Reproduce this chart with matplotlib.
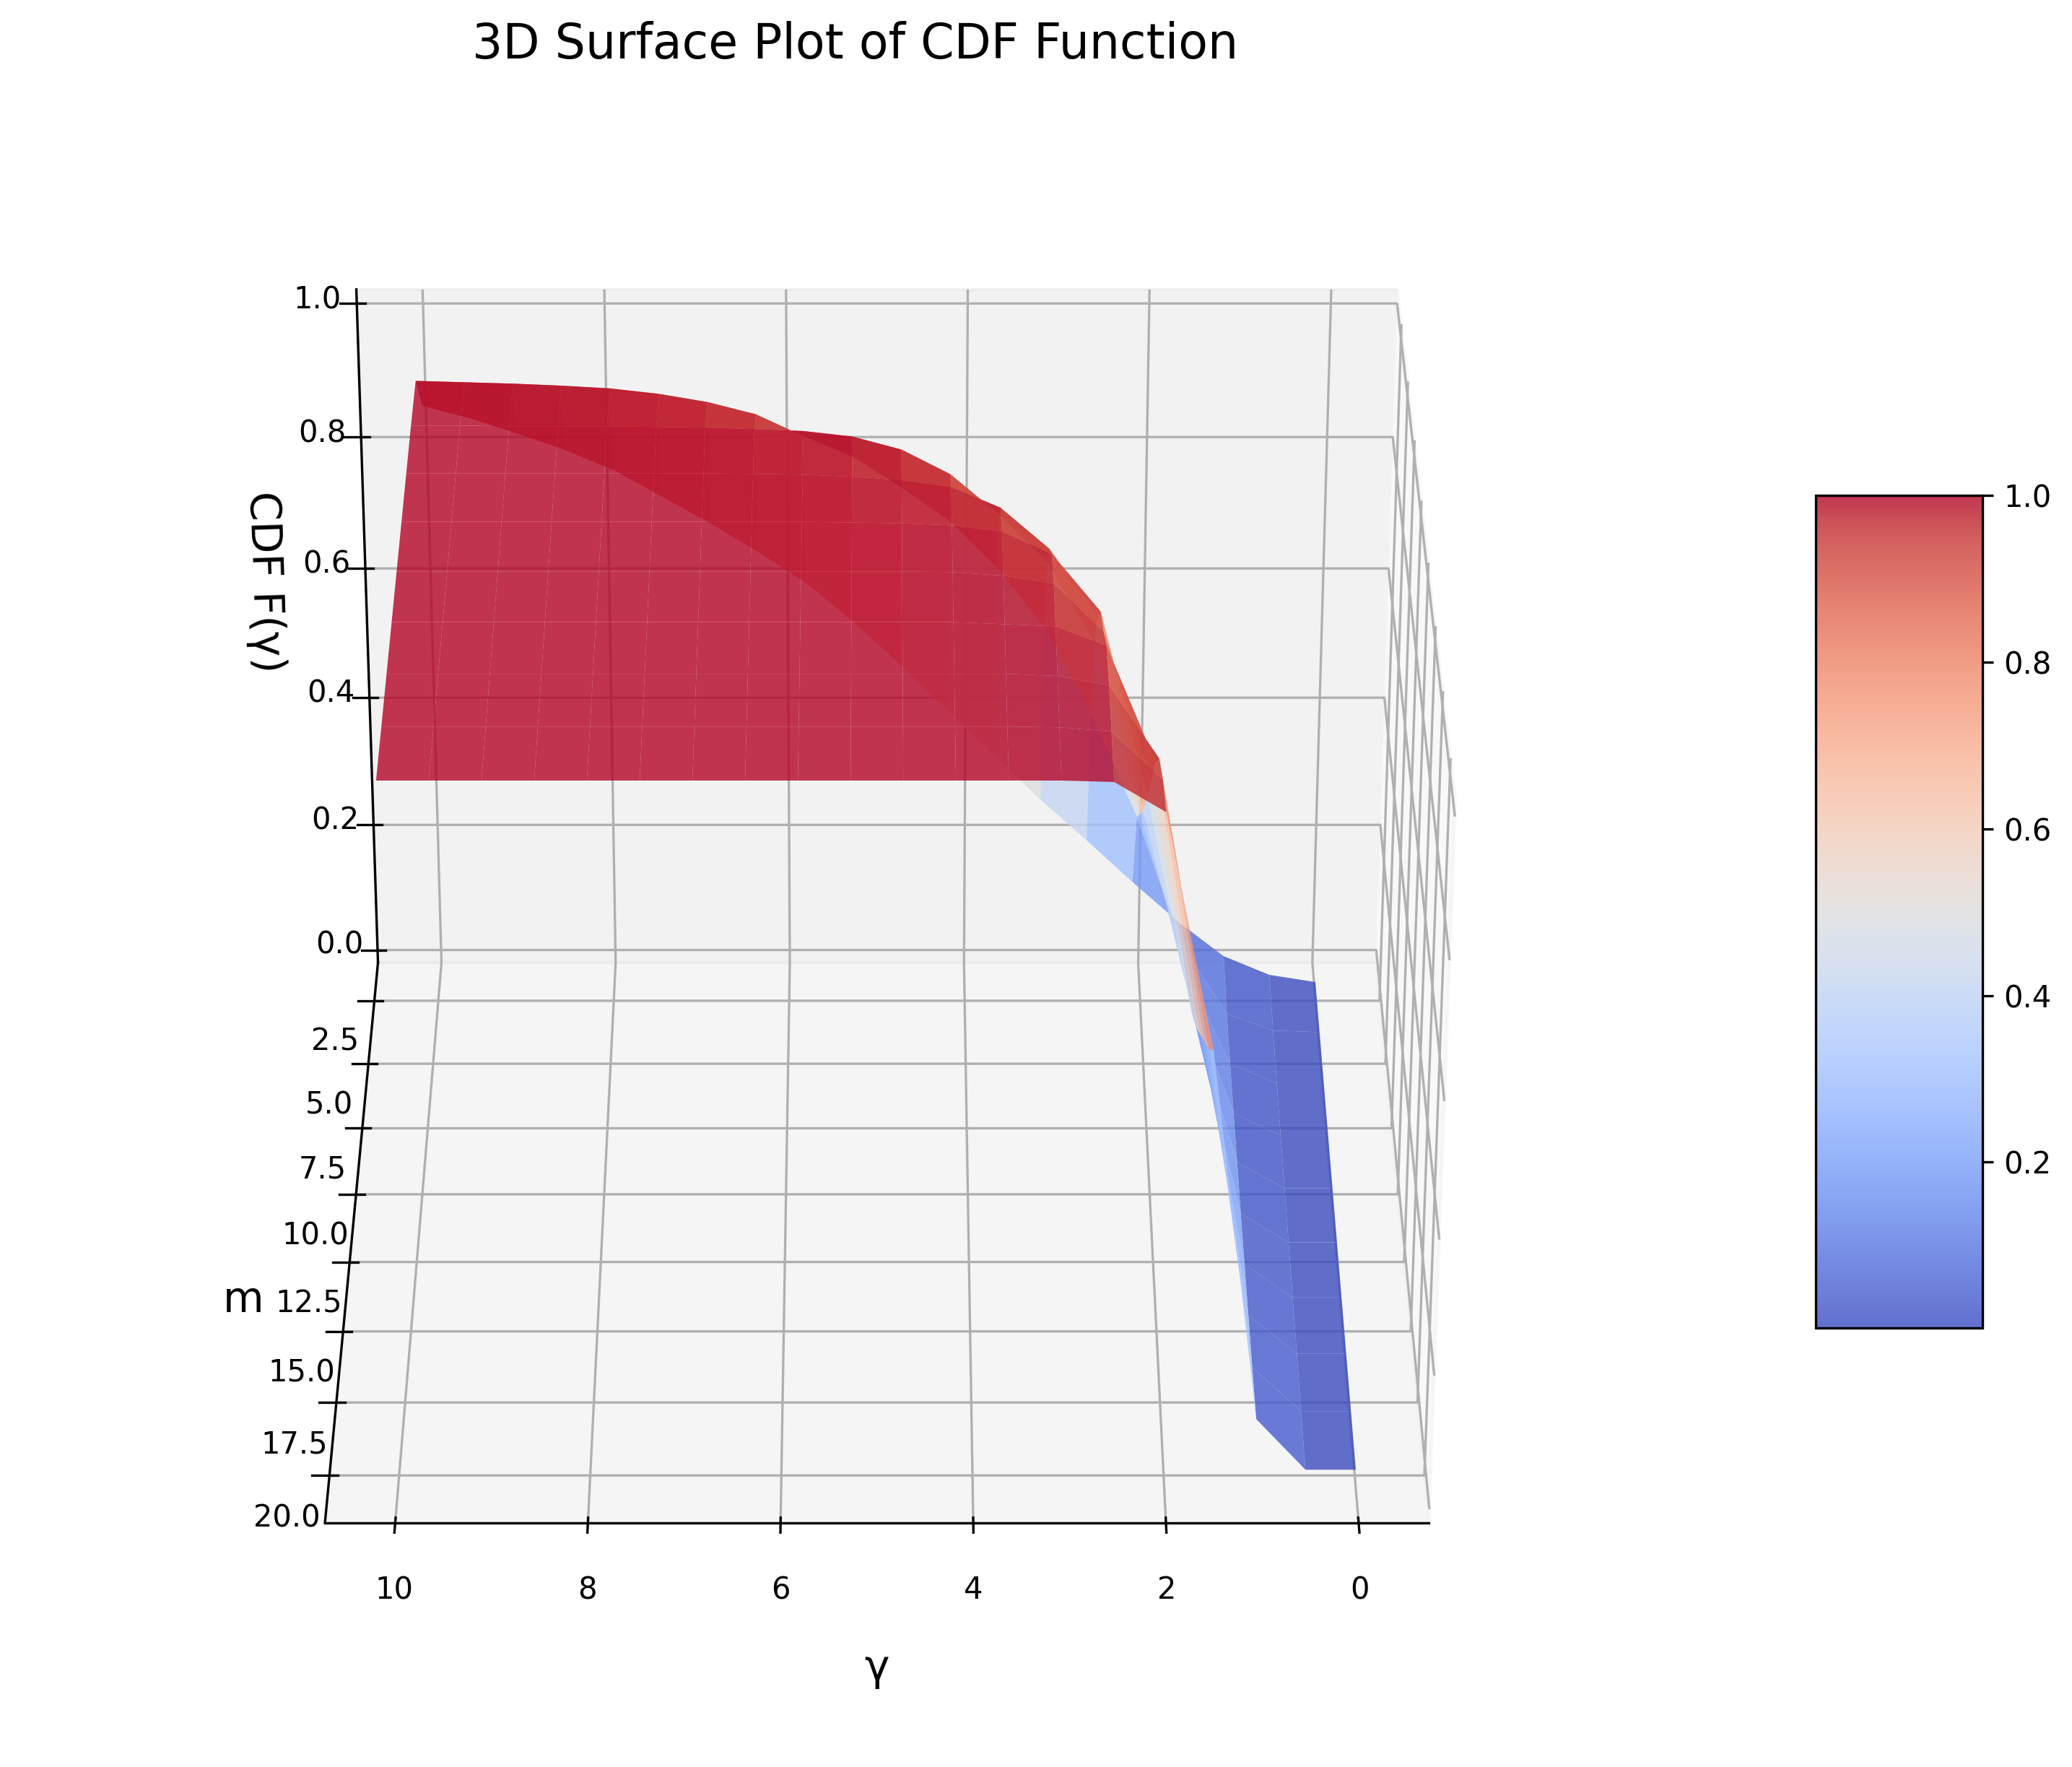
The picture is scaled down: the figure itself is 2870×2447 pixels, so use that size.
import numpy as np
import matplotlib
matplotlib.use('Agg')
import matplotlib.pyplot as plt

gamma_vals = [0.0, 0.526, 1.053, 1.579, 2.105, 2.632, 3.158, 3.684, 4.211, 4.737,
              5.263, 5.789, 6.316, 6.842, 7.368, 7.895, 8.421, 8.947, 9.474, 10.0]
m_vals = [2.27, 4.27, 6.27, 8.27, 10.27, 12.27, 14.27, 16.27, 18.27, 20.27]

# CDF leido da figura, uma linha por valor de m
cdf_row0 = [0.0005, 0.012, 0.042, 0.097, 0.16, 0.226, 0.29, 0.36, 0.43, 0.50, 0.565, 0.625, 0.672, 0.715, 0.755, 0.795, 0.825, 0.85, 0.873, 0.892]
cdf_row1 = [0.0005, 0.003, 0.03, 0.14, 0.34, 0.50, 0.63, 0.72, 0.79, 0.84, 0.885, 0.915, 0.948, 0.966, 0.978, 0.986, 0.99, 0.993, 0.995, 0.997]
cdf_row2 = [0.0005, 0.0005, 0.031, 0.18, 0.42, 0.68, 0.80, 0.87, 0.929, 0.965, 0.984, 0.992, 0.995, 0.997, 0.998, 0.999, 0.999, 0.999, 1.0, 1.0]
cdf_row3 = [0.0005, 0.0005, 0.035, 0.22, 0.50, 0.79, 0.89, 0.95, 0.98, 0.99, 0.995, 0.998, 0.999, 1.0, 1.0, 1.0, 1.0, 1.0, 1.0, 1.0]
cdf_row4 = [0.0005, 0.0005, 0.041, 0.27, 0.60, 0.87, 0.954, 0.986, 0.995, 0.998, 0.999, 1.0, 1.0, 1.0, 1.0, 1.0, 1.0, 1.0, 1.0, 1.0]
cdf_row5 = [0.0005, 0.0005, 0.045, 0.33, 0.70, 0.914, 0.983, 0.994, 0.999, 1.0, 1.0, 1.0, 1.0, 1.0, 1.0, 1.0, 1.0, 1.0, 1.0, 1.0]
cdf_row6 = [0.0005, 0.0005, 0.052, 0.40, 0.80, 0.967, 0.994, 0.997, 1.0, 1.0, 1.0, 1.0, 1.0, 1.0, 1.0, 1.0, 1.0, 1.0, 1.0, 1.0]
cdf_row7 = [0.0005, 0.0005, 0.06, 0.47, 0.88, 0.984, 0.997, 1.0, 1.0, 1.0, 1.0, 1.0, 1.0, 1.0, 1.0, 1.0, 1.0, 1.0, 1.0, 1.0]
cdf_row8 = [0.0005, 0.0005, 0.067, 0.54, 0.926, 0.993, 0.999, 1.0, 1.0, 1.0, 1.0, 1.0, 1.0, 1.0, 1.0, 1.0, 1.0, 1.0, 1.0, 1.0]
cdf_row9 = [0.0005, 0.0005, 0.077, 0.62, 0.956, 0.998, 1.0, 1.0, 1.0, 1.0, 1.0, 1.0, 1.0, 1.0, 1.0, 1.0, 1.0, 1.0, 1.0, 1.0]

X, Y = np.meshgrid(gamma_vals, m_vals)
Z = np.array([cdf_row0, cdf_row1, cdf_row2, cdf_row3, cdf_row4, cdf_row5, cdf_row6, cdf_row7, cdf_row8, cdf_row9])

fig = plt.figure(figsize=(9.567, 8.157), dpi=300)
ax = fig.add_axes([0.0105, 0.0134, 0.8037, 0.9426], projection='3d')
surf = ax.plot_surface(X, Y, Z, cmap='coolwarm', alpha=0.8, linewidth=0, antialiased=True)
ax.view_init(elev=30, azim=90)

ax.set_xlabel('γ', fontsize=14, labelpad=11)
ax.set_ylabel('m', fontsize=14, labelpad=10)
ax.set_zlabel('CDF F(γ)', fontsize=14, labelpad=10)
ax.tick_params(labelsize=10)

fig.text(647 / 1568, 1 - 34 / 1337, '3D Surface Plot of CDF Function', fontsize=16, ha='center', va='center')

cax = fig.add_axes([0.8763, 0.2483, 0.0804, 0.4712])
fig.colorbar(surf, cax=cax)
cax.tick_params(labelsize=10)

fig.savefig('out.png', dpi=300)
